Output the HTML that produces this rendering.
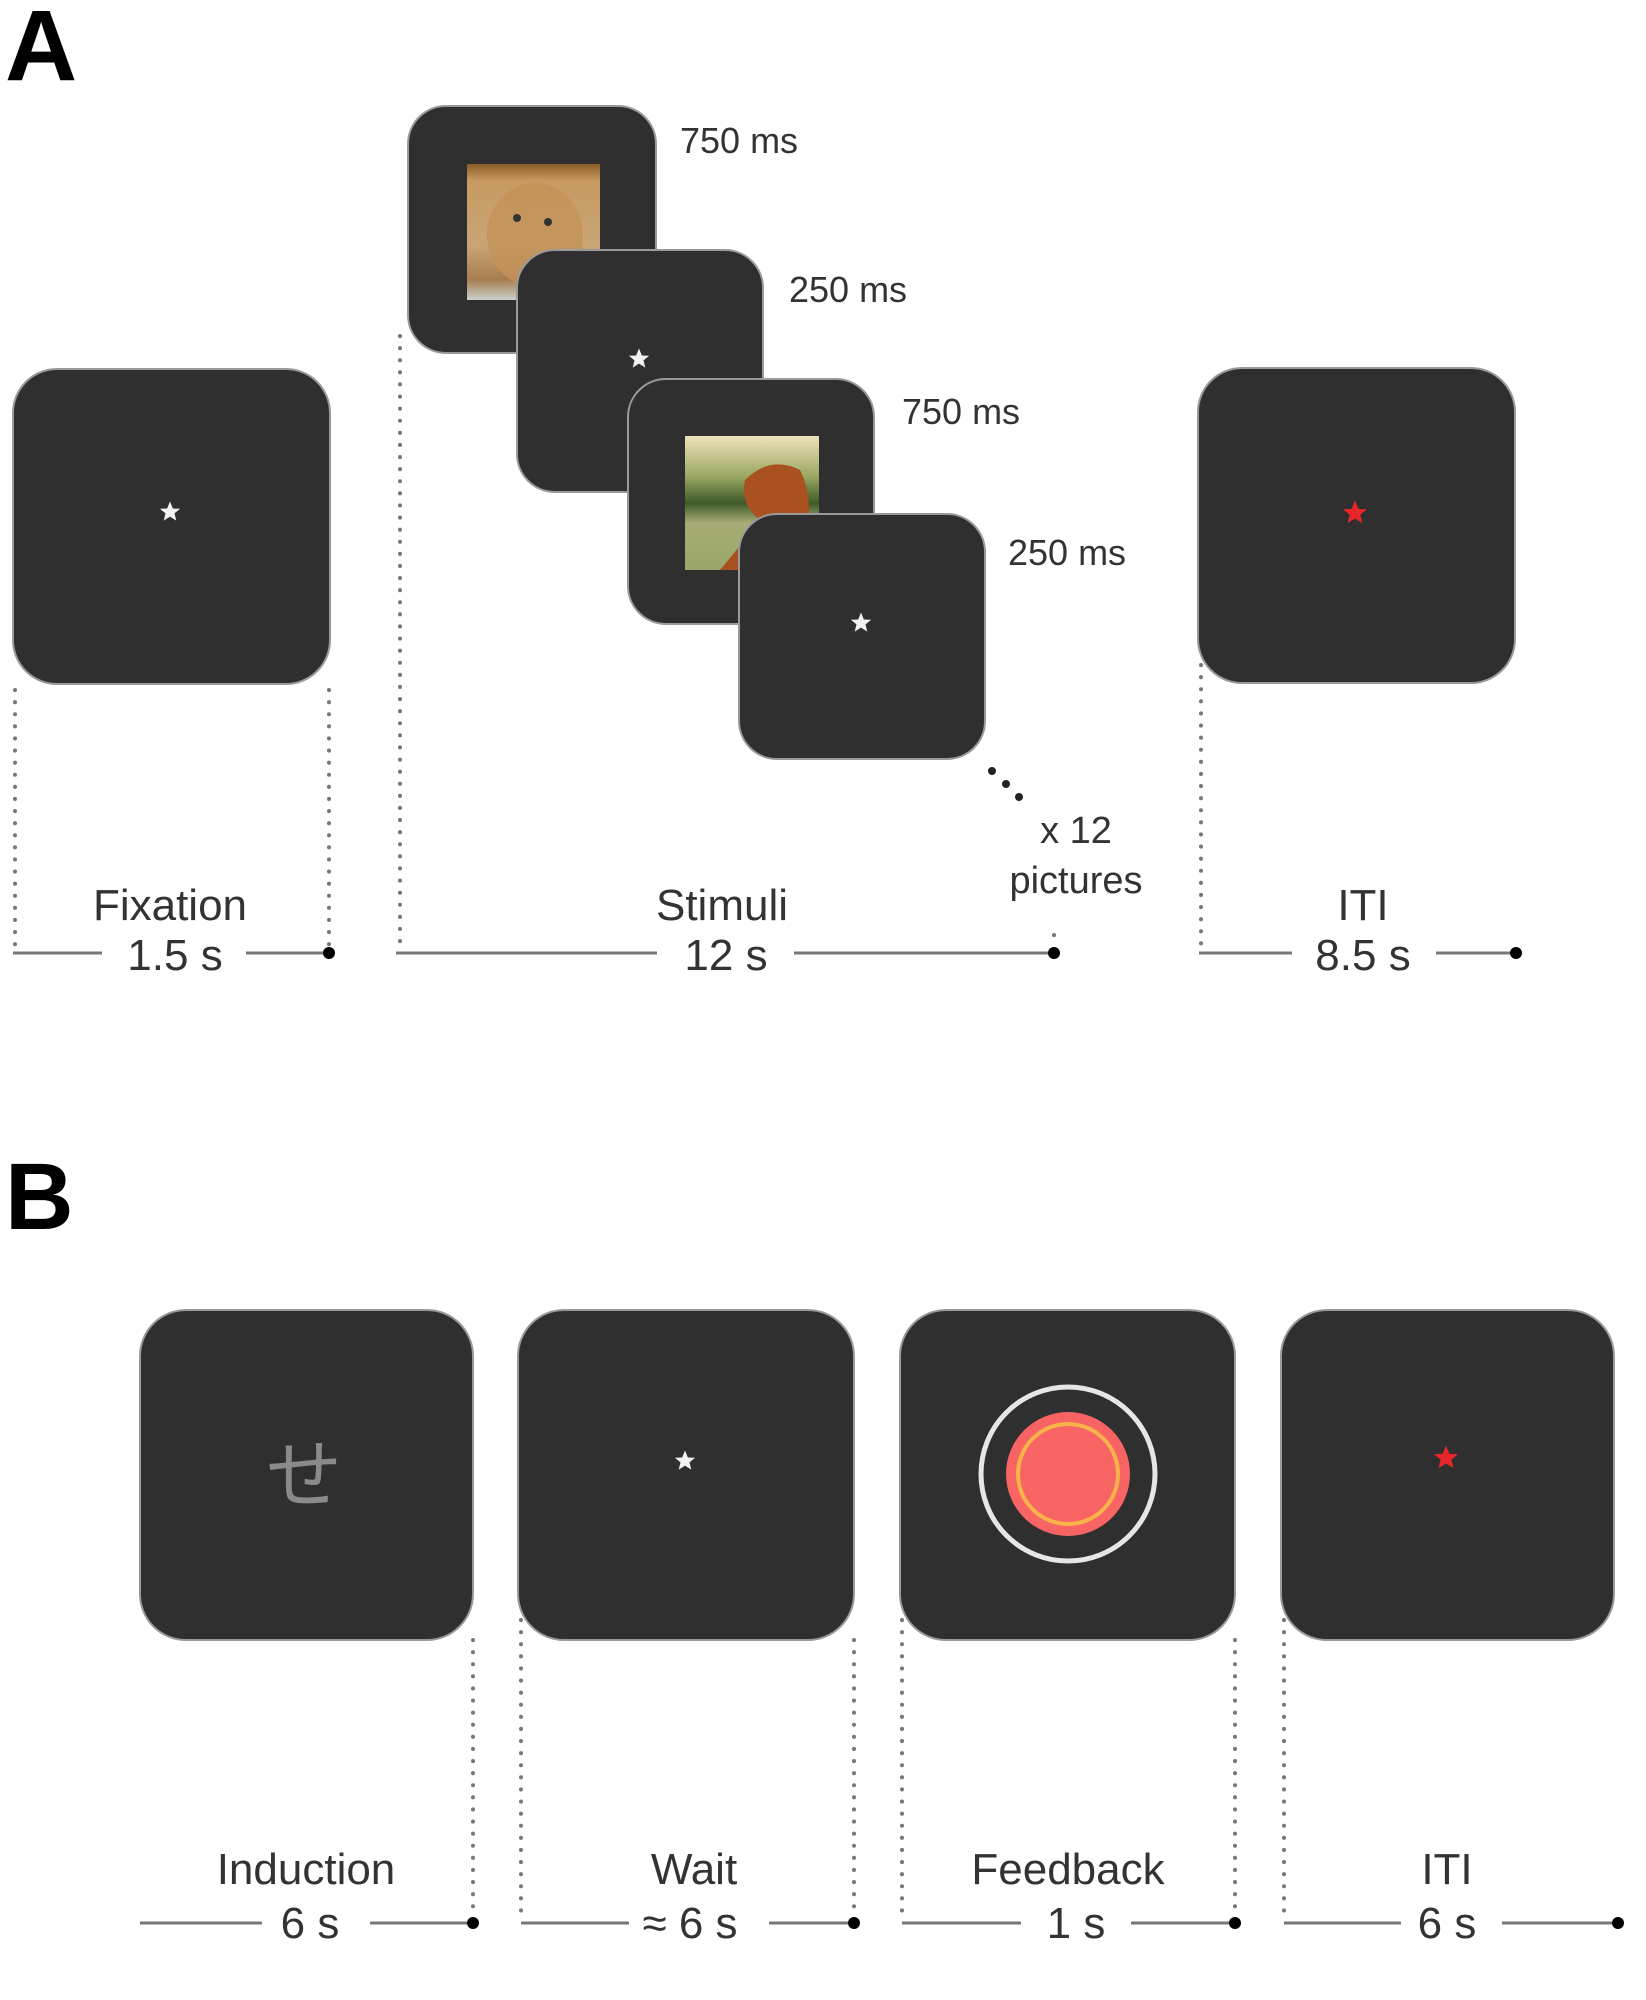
<!DOCTYPE html>
<html><head><meta charset="utf-8"><style>
html,body{margin:0;padding:0;background:#fff;}
svg{display:block;}
text{font-family:"Liberation Sans","Noto Sans CJK JP",sans-serif;}
</style></head><body>
<svg width="1646" height="2000" viewBox="0 0 1646 2000" xmlns="http://www.w3.org/2000/svg">
<defs>
<symbol id="star" viewBox="-10 -10 20 20"><polygon points="0,-9.5 2.6,-3.2 9.2,-2.9 4.1,1.3 5.7,7.8 0,4.2 -5.7,7.8 -4.1,1.3 -9.2,-2.9 -2.6,-3.2"/></symbol>
<linearGradient id="dog1" x1="0" y1="0" x2="0" y2="1">
<stop offset="0" stop-color="#8a5a24"/><stop offset="0.12" stop-color="#c89a62"/><stop offset="0.6" stop-color="#c9a574"/><stop offset="0.85" stop-color="#a77d4f"/><stop offset="1" stop-color="#c8d0cc"/></linearGradient>
<linearGradient id="dog2" x1="0" y1="0" x2="0" y2="1">
<stop offset="0" stop-color="#efe2b8"/><stop offset="0.3" stop-color="#9aa862"/><stop offset="0.5" stop-color="#3f5a2a"/><stop offset="0.65" stop-color="#a7ad74"/><stop offset="1" stop-color="#9aa66a"/></linearGradient>
</defs>
<g fill="#2f2f2f" stroke="#9a9a9a" stroke-width="2">
<!-- panel A -->
<rect x="13" y="369" width="317" height="315" rx="44"/>
<rect x="408" y="106" width="248" height="247" rx="38"/>
</g>
<rect x="467" y="164" width="133" height="136" fill="url(#dog1)"/>
<ellipse cx="535" cy="235" rx="48" ry="52" fill="#c39259" opacity="0.8"/>
<circle cx="517" cy="218" r="4" fill="#333"/><circle cx="548" cy="222" r="4" fill="#333"/>
<g fill="#2f2f2f" stroke="#9a9a9a" stroke-width="2">
<rect x="517" y="250" width="246" height="242" rx="38"/>
<rect x="628" y="379" width="246" height="245" rx="38"/>
</g>
<rect x="685" y="436" width="134" height="134" fill="url(#dog2)"/>
<path d="M745,480 Q770,455 800,470 Q815,500 805,540 L770,570 L720,570 Q745,540 760,520 Q740,505 745,480 Z" fill="#a9521f"/>
<g fill="#2f2f2f" stroke="#9a9a9a" stroke-width="2">
<rect x="739" y="514" width="246" height="245" rx="38"/>
<rect x="1198" y="368" width="317" height="315" rx="44"/>
</g>
<use href="#star" x="159" y="501" width="22" height="22" fill="#f2f2f2"/>
<use href="#star" x="628" y="348" width="22" height="22" fill="#f2f2f2"/>
<use href="#star" x="850" y="612" width="22" height="22" fill="#f2f2f2"/>
<use href="#star" x="1342" y="500" width="26" height="26" fill="#e8262a"/>

<text x="5" y="80" font-size="100" font-weight="bold" fill="#000">A</text>
<g font-size="36" fill="#333">
<text x="680" y="153">750 ms</text>
<text x="789" y="302">250 ms</text>
<text x="902" y="424">750 ms</text>
<text x="1008" y="565">250 ms</text>
</g>
<g fill="#222"><circle cx="992" cy="771" r="4"/><circle cx="1006" cy="784" r="4"/><circle cx="1019" cy="797" r="4"/></g>
<g font-size="38" fill="#333" text-anchor="middle">
<text x="1076" y="843">x 12</text>
<text x="1076" y="893">pictures</text>
</g>
<!-- dotted verticals A -->
<g stroke="#777" stroke-width="4" stroke-dasharray="0.1 12" stroke-linecap="round" fill="none">
<line x1="15" y1="690" x2="15" y2="945"/>
<line x1="329" y1="690" x2="329" y2="945"/>
<line x1="400" y1="336" x2="400" y2="945"/>
<line x1="1054" y1="935" x2="1054" y2="945"/>
<line x1="1201" y1="665" x2="1201" y2="945"/>
</g>
<g font-size="44" fill="#333" text-anchor="middle">
<text x="170" y="920">Fixation</text>
<text x="175" y="970">1.5 s</text>
<text x="722" y="920">Stimuli</text>
<text x="726" y="970">12 s</text>
<text x="1363" y="920">ITI</text>
<text x="1363" y="970">8.5 s</text>
</g>
<g stroke="#777" stroke-width="3">
<line x1="13" y1="953" x2="102" y2="953"/><line x1="246" y1="953" x2="329" y2="953"/>
<line x1="396" y1="953" x2="657" y2="953"/><line x1="794" y1="953" x2="1054" y2="953"/>
<line x1="1199" y1="953" x2="1292" y2="953"/><line x1="1436" y1="953" x2="1516" y2="953"/>
</g>
<g fill="#000"><circle cx="329" cy="953" r="6"/><circle cx="1054" cy="953" r="6"/><circle cx="1516" cy="953" r="6"/></g>

<!-- panel B -->
<text x="5" y="1229" font-size="95" font-weight="bold" fill="#000">B</text>
<g fill="#2f2f2f" stroke="#9a9a9a" stroke-width="2">
<rect x="140" y="1310" width="333" height="330" rx="46"/>
<rect x="518" y="1310" width="336" height="330" rx="46"/>
<rect x="900" y="1310" width="335" height="330" rx="46"/>
<rect x="1281" y="1310" width="333" height="330" rx="46"/>
</g>
<text x="304" y="1502" font-size="76" fill="#8a8a8a" text-anchor="middle">せ</text>
<use href="#star" x="674" y="1450" width="22" height="22" fill="#f2f2f2"/>
<use href="#star" x="1433" y="1445" width="26" height="26" fill="#e8262a"/>
<circle cx="1068" cy="1474" r="87" fill="none" stroke="#e6e6e6" stroke-width="5"/>
<circle cx="1068" cy="1474" r="62" fill="#f86464"/>
<circle cx="1068" cy="1474" r="50" fill="none" stroke="#f7b24a" stroke-width="4"/>
<g stroke="#777" stroke-width="4" stroke-dasharray="0.1 12" stroke-linecap="round" fill="none">
<line x1="473" y1="1640" x2="473" y2="1915"/>
<line x1="521" y1="1620" x2="521" y2="1915"/>
<line x1="854" y1="1640" x2="854" y2="1915"/>
<line x1="902" y1="1620" x2="902" y2="1915"/>
<line x1="1235" y1="1640" x2="1235" y2="1915"/>
<line x1="1284" y1="1620" x2="1284" y2="1915"/>
</g>
<g font-size="44" fill="#333" text-anchor="middle">
<text x="306" y="1884">Induction</text>
<text x="310" y="1938">6 s</text>
<text x="694" y="1884">Wait</text>
<text x="690" y="1938">≈ 6 s</text>
<text x="1068" y="1884">Feedback</text>
<text x="1076" y="1938">1 s</text>
<text x="1447" y="1884">ITI</text>
<text x="1447" y="1938">6 s</text>
</g>
<g stroke="#777" stroke-width="3">
<line x1="140" y1="1923" x2="262" y2="1923"/><line x1="370" y1="1923" x2="473" y2="1923"/>
<line x1="521" y1="1923" x2="629" y2="1923"/><line x1="769" y1="1923" x2="854" y2="1923"/>
<line x1="902" y1="1923" x2="1021" y2="1923"/><line x1="1131" y1="1923" x2="1235" y2="1923"/>
<line x1="1284" y1="1923" x2="1401" y2="1923"/><line x1="1502" y1="1923" x2="1618" y2="1923"/>
</g>
<g fill="#000"><circle cx="473" cy="1923" r="6"/><circle cx="854" cy="1923" r="6"/><circle cx="1235" cy="1923" r="6"/><circle cx="1618" cy="1923" r="6"/></g>
</svg>
</body></html>
